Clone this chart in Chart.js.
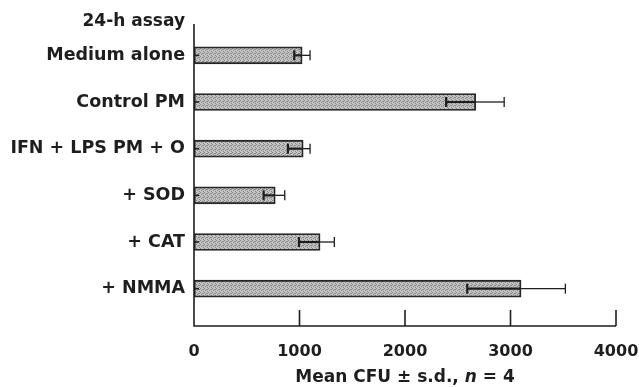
<!DOCTYPE html>
<html lang="en">
<head>
  <meta charset="UTF-8"/>
  <title>24-h assay</title>
  <script src="https://cdn.jsdelivr.net/npm/chart.js@4.4.1/dist/chart.umd.min.js"></script>
  <style>
    html, body { margin: 0; padding: 0; background: #fff; }
    #wrap { width: 639px; height: 387px; position: relative; }
  </style>
</head>
<body>
  <div id="wrap"><canvas id="chart"></canvas></div>
  <script>
    const categories = ['Medium alone', 'Control PM', 'IFN + LPS PM + O', '+ SOD', '+ CAT', '+ NMMA'];
    const meanCfu = [1025, 2670, 1035, 770, 1195, 3100];
    const errLow  = [950, 2390, 890, 660, 995, 2590];
    const errHigh = [1100, 2940, 1100, 860, 1330, 3520];
    const xTicks = [0, 1000, 2000, 3000, 4000];

    const FONT = 'DejaVu Sans';
    const INK = '#1e1e1e';

    // stippled grey fill like the printed bars
    function stipple() {
      const c = document.createElement('canvas');
      c.width = 4; c.height = 4;
      const g = c.getContext('2d');
      g.fillStyle = '#c4c4c4';
      g.fillRect(0, 0, 4, 4);
      g.fillStyle = '#858585';
      [[0,0],[2,1],[1,2],[3,3],[3,1]].forEach(([x, y]) => g.fillRect(x, y, 1, 1));
      return g.createPattern(c, 'repeat');
    }

    const decor = {
      id: 'decor',
      afterDatasetsDraw(chart) {
        const ctx = chart.ctx, xs = chart.scales.x, ys = chart.scales.y;
        ctx.save();
        ctx.strokeStyle = INK;
        meanCfu.forEach((v, i) => {
          const y = ys.getPixelForValue(i);
          const xl = xs.getPixelForValue(errLow[i]);
          const xm = xs.getPixelForValue(v);
          const xh = xs.getPixelForValue(errHigh[i]);
          ctx.lineWidth = 2.2;
          ctx.beginPath(); ctx.moveTo(xl, y); ctx.lineTo(xm, y); ctx.stroke();
          ctx.beginPath(); ctx.moveTo(xl, y - 5); ctx.lineTo(xl, y + 5); ctx.stroke();
          ctx.lineWidth = 1.3;
          ctx.beginPath(); ctx.moveTo(xm, y); ctx.lineTo(xh, y); ctx.stroke();
          ctx.beginPath(); ctx.moveTo(xh, y - 5); ctx.lineTo(xh, y + 5); ctx.stroke();
        });
        ctx.restore();
      },
      afterDraw(chart) {
        const ctx = chart.ctx, xs = chart.scales.x, ys = chart.scales.y;
        const x0 = xs.getPixelForValue(0);
        const axisY = 326, axisTop = 24;
        ctx.save();
        ctx.strokeStyle = INK;
        ctx.lineWidth = 1.6;
        ctx.beginPath();
        ctx.moveTo(x0, axisTop);
        ctx.lineTo(x0, axisY);
        ctx.lineTo(xs.getPixelForValue(xTicks[xTicks.length - 1]), axisY);
        ctx.stroke();
        // inward ticks
        xTicks.slice(1).forEach(t => {
          const x = xs.getPixelForValue(t);
          ctx.beginPath(); ctx.moveTo(x, axisY); ctx.lineTo(x, axisY - 16); ctx.stroke();
        });
        categories.forEach((c, i) => {
          const y = ys.getPixelForValue(i);
          ctx.beginPath(); ctx.moveTo(x0, y); ctx.lineTo(x0 + 5, y); ctx.stroke();
        });
        // heading above the categories
        ctx.fillStyle = INK;
        ctx.font = 'bold 17px "' + FONT + '"';
        ctx.textAlign = 'right';
        ctx.textBaseline = 'middle';
        ctx.fillText('24-h assay', x0 - 9, 22);
        // axis title with italic n
        const parts = [
          ['Mean CFU \u00b1 s.d., ', 'bold 17px "' + FONT + '"'],
          ['n', 'italic bold 17px "' + FONT + '"'],
          [' = 4', 'bold 17px "' + FONT + '"']
        ];
        let w = 0;
        parts.forEach(p => { ctx.font = p[1]; w += ctx.measureText(p[0]).width; });
        let x = (x0 + xs.getPixelForValue(4000)) / 2 - w / 2;
        ctx.textAlign = 'left';
        parts.forEach(p => { ctx.font = p[1]; ctx.fillText(p[0], x, 378); x += ctx.measureText(p[0]).width; });
        ctx.restore();
      }
    };

    new Chart(document.getElementById('chart'), {
      type: 'bar',
      data: {
        labels: categories,
        datasets: [{
          data: meanCfu,
          backgroundColor: stipple(),
          borderColor: '#262626',
          borderWidth: 1.8,
          borderSkipped: false,
          barThickness: 17
        }]
      },
      options: {
        indexAxis: 'y',
        responsive: true,
        maintainAspectRatio: false,
        animation: false,
        layout: { padding: { top: 32, right: 23, bottom: 0, left: 0 } },
        plugins: { legend: { display: false }, tooltip: { enabled: false } },
        scales: {
          x: {
            type: 'linear',
            min: 0, max: 4000,
            afterBuildTicks: s => { s.ticks = xTicks.map(v => ({ value: v })); },
            afterFit: s => { s.height = 75; s.paddingRight = 0; s.paddingLeft = 0; },
            grid: { display: false, drawTicks: false },
            border: { display: false },
            ticks: {
              color: INK, padding: 30,
              font: { family: FONT, size: 16, weight: 'bold' },
              callback: v => String(v)
            }
          },
          y: {
            afterFit: s => { s.width = 194; },
            grid: { display: false, drawTicks: false },
            border: { display: false },
            ticks: { color: INK, padding: 9, font: { family: FONT, size: 17.5, weight: 'bold' } }
          }
        }
      },
      plugins: [decor]
    });
  </script>
</body>
</html>
